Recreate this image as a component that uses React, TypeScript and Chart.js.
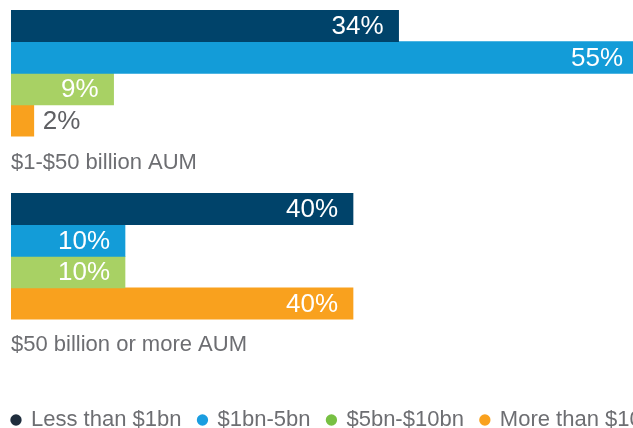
import React, { useEffect, useRef } from "react";
import { Chart, registerables } from "chart.js";

Chart.register(...registerables);

// ---- data ----
const seriesNames = ["Less than $1bn", "$1bn-5bn", "$5bn-$10bn", "More than $10bn"];
const barColors = ["#00436a", "#139cd8", "#a8d164", "#f9a11e"];
const legendColors = ["#1f2d3d", "#1a9de0", "#77c043", "#f9a11e"];

const group1Title = "$1-$50 billion AUM";
const group1Values = [34, 55, 9, 2];
const group1Labels = [34, 55, 9, 2];

const group2Title = "$50 billion or more AUM";
// bar lengths as drawn in the source picture
const group2Values = [30, 10, 10, 30];
// percentages printed on the bars
const group2Labels = [40, 10, 10, 40];

const FONT = "'Liberation Sans', Arial, Helvetica, sans-serif";
const GREY = "#6d6e72";

const valueLabelPlugin = {
  id: "valueLabels",
  afterDatasetsDraw(chart: any, _args: any, opts: any) {
    const ctx = chart.ctx;
    const texts: number[] = opts.texts || [];
    ctx.save();
    ctx.font = `26px ${FONT}`;
    ctx.textBaseline = "middle";
    chart.data.datasets.forEach((_ds: any, i: number) => {
      const meta = chart.getDatasetMeta(i);
      meta.data.forEach((el: any) => {
        const p = el.getProps(["x", "y", "base"], true);
        const txt = `${texts[i]}%`;
        const w = ctx.measureText(txt).width;
        const barW = p.x - p.base;
        if (barW > w + 24) {
          ctx.fillStyle = "#ffffff";
          ctx.textAlign = "right";
          ctx.fillText(txt, p.x - 15, p.y + 1);
        } else {
          ctx.fillStyle = "#5f6064";
          ctx.textAlign = "left";
          ctx.fillText(txt, p.x + 9, p.y + 1);
        }
      });
    });
    ctx.restore();
  },
};

function makeConfig(
  title: string,
  values: number[],
  labels: number[],
  withLegend: boolean,
  padTop: number,
  titlePadTop: number,
  titlePadBottom: number
): any {
  return {
    type: "bar",
    data: {
      labels: [title],
      datasets: seriesNames.map((name, i) => ({
        label: name,
        data: [values[i]],
        backgroundColor: barColors[i],
        borderWidth: 0,
        barPercentage: 1,
        categoryPercentage: 1,
      })),
    },
    options: {
      indexAxis: "y",
      responsive: false,
      animation: false,
      events: [],
      layout: { padding: { left: 0, right: 0, top: padTop, bottom: 0 } },
      scales: {
        x: { display: false, min: 0, max: 61.4 },
        y: {
          display: true,
          ticks: { display: false },
          grid: { display: false },
          border: { display: false },
          afterFit: (s: any) => {
            s.width = 16;
          },
        },
      },
      plugins: {
        tooltip: { enabled: false },
        title: {
          display: true,
          text: title,
          position: "bottom",
          align: "start",
          fullSize: false,
          weight: 2000,
          color: GREY,
          font: { family: FONT, size: 22, weight: "normal", lineHeight: 1.2 },
          padding: { top: titlePadTop, bottom: titlePadBottom },
        },
        legend: withLegend
          ? {
              display: true,
              position: "bottom",
              align: "start",
              weight: 3000,
              labels: {
                usePointStyle: true,
                pointStyle: "circle",
                boxWidth: 8,
                boxHeight: 8,
                padding: 17,
                color: GREY,
                font: { family: FONT, size: 22 },
                generateLabels: () =>
                  seriesNames.map((n, i) => ({
                    text: n,
                    fillStyle: legendColors[i],
                    strokeStyle: legendColors[i],
                    lineWidth: 0,
                    pointStyle: "circle",
                    hidden: false,
                    datasetIndex: i,
                    fontColor: GREY,
                  })),
              },
            }
          : { display: false },
        valueLabels: { texts: labels },
      },
    },
    plugins: [valueLabelPlugin],
  };
}

function BarGroup(props: {
  title: string;
  values: number[];
  labels: number[];
  legend: boolean;
  top: number;
  height: number;
  padTop: number;
  titlePadTop: number;
  titlePadBottom: number;
}) {
  const ref = useRef<HTMLCanvasElement | null>(null);
  useEffect(() => {
    if (!ref.current) return;
    const chart = new Chart(
      ref.current,
      makeConfig(
        props.title,
        props.values,
        props.labels,
        props.legend,
        props.padTop,
        props.titlePadTop,
        props.titlePadBottom
      )
    );
    return () => chart.destroy();
  }, []);
  return (
    <canvas
      ref={ref}
      width={716}
      height={props.height}
      style={{ position: "absolute", left: -5, top: props.top, width: 716, height: props.height }}
    />
  );
}

export default function App() {
  return (
    <div
      style={{
        position: "fixed",
        left: 0,
        top: 0,
        width: 633,
        height: 428,
        overflow: "hidden",
        background: "#ffffff",
      }}
    >
      <BarGroup
        title={group1Title}
        values={group1Values}
        labels={group1Labels}
        legend={false}
        top={0}
        height={176}
        padTop={10}
        titlePadTop={13}
        titlePadBottom={0}
      />
      <BarGroup
        title={group2Title}
        values={group2Values}
        labels={group2Labels}
        legend={true}
        top={176}
        height={265}
        padTop={17}
        titlePadTop={12.5}
        titlePadBottom={33.5}
      />
    </div>
  );
}
